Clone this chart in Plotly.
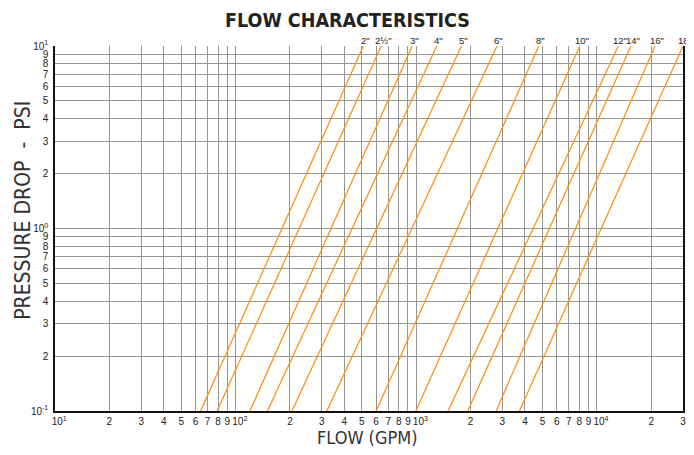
import math
import plotly.graph_objects as go

# Pipe sizes and flow (GPM) where each curve meets 0.1 psi and 10 psi
sizes = ['2"', '2½"', '3"', '4"', '5"', '6"', '8"', '10"', '12"', '14"', '16"', '18"']
flow_at_low = [64, 79, 120, 150, 205, 320, 600, 995, 1500, 1930, 2770, 3730]
flow_at_high = [510, 640, 950, 1300, 1780, 2800, 4770, 8050, 13150, 15450, 21000, 30000]
psi_low = 0.1
psi_high = 10

# Axis ticks
x_tickvals = [d * k for d in (10, 100, 1000) for k in range(1, 10)] + [10000, 20000, 30000]
x_ticktext = []
for v in x_tickvals:
    e = math.log10(v)
    if abs(e - round(e)) < 1e-9:
        x_ticktext.append("\u00a0\u00a0\u00a010<sup>%d</sup>" % round(e))
    else:
        x_ticktext.append(str(int(round(v / 10 ** math.floor(e)))))

y_tickvals = [d * k for d in (0.1, 1) for k in range(1, 10)] + [10]
y_ticktext = []
for v in y_tickvals:
    e = math.log10(v)
    if abs(e - round(e)) < 1e-9:
        y_ticktext.append("10<sup>%d</sup>" % round(e))
    else:
        y_ticktext.append(str(int(round(v / 10 ** math.floor(e)))))

orange = "#F7941D"
grid = "#969696"
font_main = "Liberation Sans, Arial, Helvetica, sans-serif"
font_narrow = "DejaVu Sans Condensed, Liberation Sans Narrow, Arial Narrow, sans-serif"

fig = go.Figure()
for s, lo, hi in zip(sizes, flow_at_low, flow_at_high):
    fig.add_trace(go.Scatter(
        x=[lo, hi], y=[psi_low, psi_high], mode="lines",
        line=dict(color=orange, width=1.3), name=s, showlegend=False,
        hoverinfo="skip", cliponaxis=True,
    ))

annotations = []
for s, hi in zip(sizes, flow_at_high):
    annotations.append(dict(
        x=math.log10(hi), y=1, xref="x", yref="paper", text=s, showarrow=False,
        xanchor="center", yanchor="bottom", xshift=2, yshift=-2,
        font=dict(family=font_main, size=9.5, color="#222"),
    ))
annotations.append(dict(
    x=0.465, y=1.071, xref="paper", yref="paper",
    text="<b>FLOW CHARACTERISTICS</b>", showarrow=False,
    xanchor="center", yanchor="middle",
    font=dict(family=font_narrow, size=19.5, color="#222"),
))
annotations.append(dict(
    x=-0.05, y=0.55, xref="paper", yref="paper",
    text="PRESSURE DROP\u00a0\u00a0-\u00a0\u00a0PSI", textangle=-90, showarrow=False,
    xanchor="center", yanchor="middle",
    font=dict(family=font_narrow, size=21, color="#333"),
))
annotations.append(dict(
    x=0.497, y=-0.072, xref="paper", yref="paper", text="FLOW (GPM)", showarrow=False,
    xanchor="center", yanchor="middle",
    font=dict(family=font_narrow, size=18, color="#333"),
))

# The page body adds an 8px offset; the figure is sized to fill the rest of the window.
fig.update_layout(
    width=686, height=447,
    margin=dict(l=47, r=11, t=38, b=44),
    paper_bgcolor="white", plot_bgcolor="white",
    annotations=annotations,
    xaxis=dict(type="log", range=[1, math.log10(30000)], tickvals=x_tickvals, ticktext=x_ticktext,
               showgrid=True, gridcolor=grid, gridwidth=1, zeroline=False,
               showline=True, linecolor="#111", linewidth=1.5, ticks="", ticklen=0, tickangle=0,
               automargin=False,
               tickfont=dict(family=font_main, size=10, color="#222"), ticklabelstandoff=0),
    yaxis=dict(type="log", range=[-1, 1], tickvals=y_tickvals, ticktext=y_ticktext,
               showgrid=True, gridcolor=grid, gridwidth=1, zeroline=False,
               showline=True, mirror=True, linecolor="#111", linewidth=1.5, ticks="", ticklen=0,
               automargin=False,
               tickfont=dict(family=font_main, size=10, color="#222"), ticklabelstandoff=3),
)

fig.write_html("out.html")
